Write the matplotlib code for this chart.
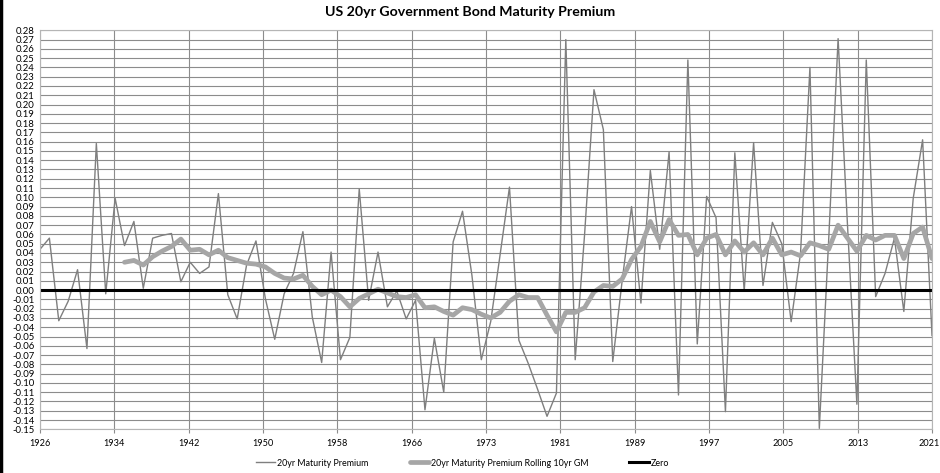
import numpy as np
import matplotlib
matplotlib.use("Agg")
import matplotlib.pyplot as plt
import matplotlib.transforms as mtrans
from matplotlib.lines import Line2D

years = list(range(1926, 2022))

premium = [
    0.044, 0.056, -0.033, -0.012, 0.022, -0.063, 0.158, -0.004, 0.099, 0.048,
    0.074, 0.002, 0.056, 0.059, 0.061, 0.009, 0.030, 0.018, 0.025, 0.104,
    -0.005, -0.031, 0.027, 0.053, -0.009, -0.053, -0.004, 0.018, 0.063, -0.029,
    -0.078, 0.041, -0.075, -0.051, 0.109, -0.011, 0.041, -0.018, -0.001, -0.031,
    -0.011, -0.129, -0.052, -0.110, 0.052, 0.085, 0.016, -0.075, -0.034, 0.038,
    0.111, -0.054, -0.079, -0.107, -0.136, -0.111, 0.270, -0.075, 0.060, 0.216,
    0.173, -0.077, 0.010, 0.090, -0.014, 0.129, 0.044, 0.149, -0.113, 0.248,
    -0.058, 0.101, 0.078, -0.131, 0.148, -0.001, 0.159, 0.005, 0.073, 0.050,
    -0.034, 0.040, 0.240, -0.149, 0.055, 0.271, 0.070, -0.123, 0.248, -0.007,
    0.018, 0.056, -0.023, 0.099, 0.162, -0.049,
]

rolling_gm = [
    np.nan, np.nan, np.nan, np.nan, np.nan, np.nan, np.nan, np.nan, np.nan, 0.030,
    0.032, 0.027, 0.036, 0.042, 0.047, 0.055, 0.043, 0.044, 0.038, 0.043,
    0.035, 0.032, 0.029, 0.028, 0.025, 0.018, 0.013, 0.012, 0.016, 0.004,
    -0.005, 0.000, -0.007, -0.018, -0.009, -0.004, 0.001, -0.003, -0.007, -0.008,
    -0.005, -0.019, -0.018, -0.023, -0.027, -0.019, -0.021, -0.026, -0.030, -0.024,
    -0.012, -0.005, -0.008, -0.008, -0.027, -0.045, -0.024, -0.024, -0.019, -0.002,
    0.005, 0.004, 0.012, 0.033, 0.047, 0.074, 0.052, 0.076, 0.059, 0.060,
    0.038, 0.056, 0.060, 0.038, 0.053, 0.041, 0.051, 0.038, 0.056, 0.038,
    0.041, 0.037, 0.051, 0.048, 0.044, 0.070, 0.056, 0.042, 0.059, 0.054,
    0.059, 0.059, 0.034, 0.061, 0.068, 0.034,
]

zero = [0.0] * len(years)

xtick_labels = ['1926', '1934', '1942', '1950', '1958', '1966', '1973',
                '1981', '1989', '1997', '2005', '2013', '2021']

title = 'US 20yr Government Bond Maturity Premium'
series_names = ['20yr Maturity Premium', '20yr Maturity Premium Rolling 10yr GM', 'Zero']

plt.rcParams['font.family'] = ['Lato', 'DejaVu Sans']

W, H = 940, 473
fig = plt.figure(figsize=(W / 100, H / 100), dpi=100)
ax = fig.add_axes([40 / W, (H - 429.3) / H, 892 / W, 399 / H])

ax.set_ylim(-0.15, 0.28)
ax.set_xlim(years[0], years[-1])

yt = np.round(np.arange(-0.15, 0.2801, 0.01), 2)
ax.set_yticks(yt)
ax.set_yticklabels([f'{v:.2f}' for v in yt])
xt = np.linspace(years[0], years[-1], len(xtick_labels))
ax.set_xticks(xt)
ax.set_xticklabels(xtick_labels)

ax.grid(True, axis='both', color='#8c8c8c', linewidth=0.8)
ax.set_axisbelow(True)
for s in ax.spines.values():
    s.set_color('#b5b5b5')
    s.set_linewidth(0.8)
ax.tick_params(axis='x', labelsize=6.6, length=3, color='#8c8c8c', pad=4)
ax.tick_params(axis='y', labelsize=6.8, length=0, pad=4)

# nudge the last x label inward so it stays inside the figure
last = ax.get_xticklabels()[-1]
last.set_transform(last.get_transform() +
                   mtrans.ScaledTranslation(-3 / 100, 0, fig.dpi_scale_trans))

l1, = ax.plot(years, premium, color='#7f7f7f', linewidth=1.0,
              solid_joinstyle='round', label=series_names[0])
l2, = ax.plot(years, rolling_gm, color='#a6a6a6', linewidth=3.4,
              solid_joinstyle='round', solid_capstyle='round', label=series_names[1])
l3, = ax.plot(years, zero, color='black', linewidth=2.2, label=series_names[2])

fig.text(0.5, 1 - 12 / H, title, ha='center', va='center',
         fontsize=10.2, fontweight='bold')

fig.legend(handles=[l1, l2, l3], loc='center', bbox_to_anchor=(0.492, 1 - 463 / H),
           ncol=3, frameon=False, fontsize=6.4, handlelength=2.2,
           handletextpad=0.2, columnspacing=4.6)

fig.add_artist(Line2D([1.2 / W, 1.2 / W], [0, 1], transform=fig.transFigure,
                      color='black', linewidth=2.5))

fig.savefig('out.png', dpi=100)
